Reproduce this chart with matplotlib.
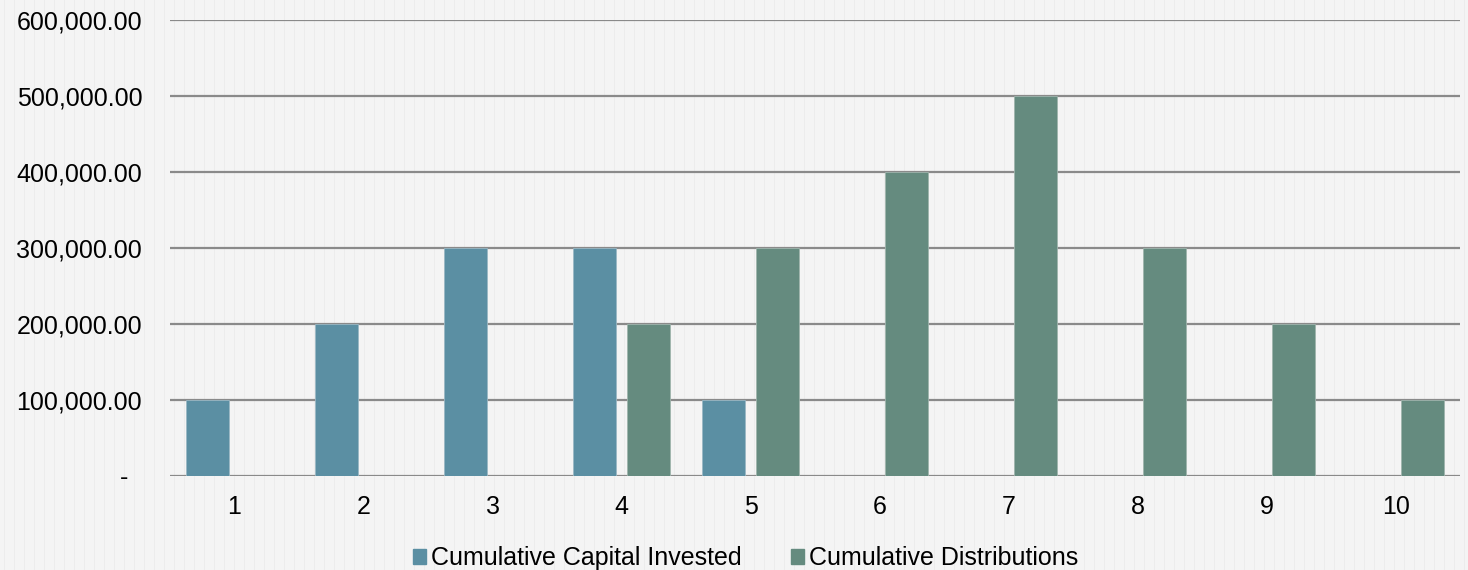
import matplotlib.pyplot as plt
from matplotlib.ticker import FuncFormatter
from matplotlib.patches import Patch
import numpy as np

plt.rcParams['font.family'] = ['Liberation Sans', 'DejaVu Sans']

# data
years = ['1', '2', '3', '4', '5', '6', '7', '8', '9', '10']
capital_invested = [100000, 200000, 300000, 300000, 100000, 0, 0, 0, 0, 0]
distributions = [0, 0, 0, 200000, 300000, 400000, 500000, 300000, 200000, 100000]

blue = '#5b8fa3'
green = '#658b7f'
bg = '#f4f4f4'

fig = plt.figure(figsize=(14.68, 5.70), dpi=100, facecolor=bg)

# faint vertical stripe texture of the background
bgax = fig.add_axes([0, 0, 1, 1], zorder=0)
bgax.set_xlim(0, 1468)
bgax.set_ylim(0, 570)
for xs in np.arange(4, 1468, 10):
    bgax.axvline(xs, color='#ececec', lw=0.7)
bgax.axis('off')

ax = fig.add_axes([0.1158, 0.165, 0.8788, 0.8], zorder=1)
ax.patch.set_visible(False)

x = np.arange(len(years))
w = 0.333
ax.bar(x - 0.21, capital_invested, w, color=blue, edgecolor='#9ab8c4', lw=0.6, zorder=3)
ax.bar(x + 0.21, distributions, w, color=green, edgecolor='#9fb5ad', lw=0.6, zorder=3)

ax.set_xlim(-0.5, len(years) - 0.5)
ax.set_ylim(0, 600000)
ax.set_yticks(np.arange(0, 600001, 100000))
ax.yaxis.set_major_formatter(FuncFormatter(lambda v, p: '-  ' if v == 0 else f'{v:,.2f}'))
ax.set_xticks(x)
ax.set_xticklabels(years)
ax.grid(axis='y', color='#8a8a8a', lw=1.6, zorder=1)
ax.tick_params(axis='y', length=0, pad=20, labelsize=18, colors='black')
ax.tick_params(axis='x', length=0, pad=14, labelsize=18, colors='black')
for s in ax.spines.values():
    s.set_visible(False)

handles = [Patch(color=blue, label='Cumulative Capital Invested'),
           Patch(color=green, label='Cumulative Distributions')]
fig.legend(handles=handles, loc='lower center', bbox_to_anchor=(0.508, -0.04), ncol=2,
           frameon=False, fontsize=18, handlelength=0.5, handleheight=0.5,
           handletextpad=0.2, columnspacing=2.0)

fig.savefig('out.png', dpi=100, facecolor=bg)
